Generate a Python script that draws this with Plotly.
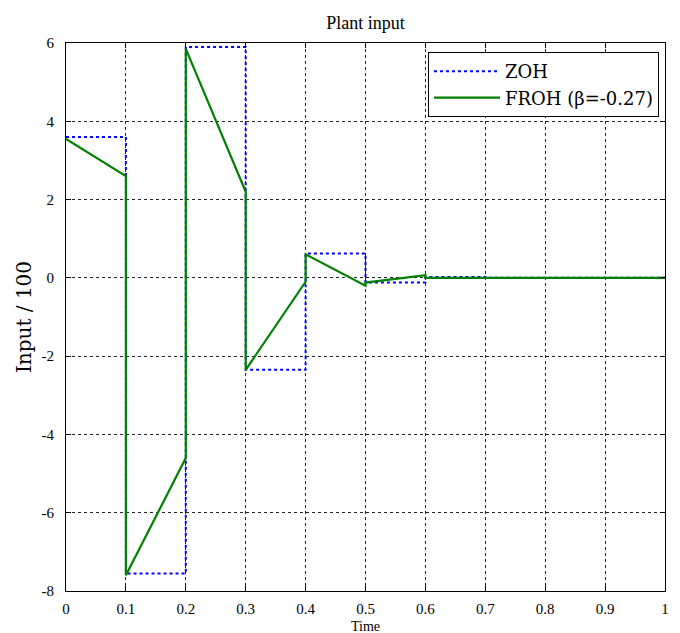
import plotly.graph_objects as go

# Sampling instants (T = 0.1)
t_samples = [0.0, 0.1, 0.2, 0.3, 0.4, 0.5, 0.6, 0.7, 0.8, 0.9, 1.0]
# ZOH held value on each interval
zoh_vals = [3.6, -7.55, 5.9, -2.35, 0.62, -0.12, 0.02, 0.0, 0.0, 0.0]
# FROH value at start and end of each interval
froh_start = [3.55, -7.6, 5.85, -2.35, 0.6, -0.12, 0.0, 0.0, 0.0, 0.0]
froh_end = [2.6, -4.6, 2.2, -0.1, -0.2, 0.07, 0.0, 0.0, 0.0, 0.0]

x_ticks = [0, 0.1, 0.2, 0.3, 0.4, 0.5, 0.6, 0.7, 0.8, 0.9, 1]
x_labels = ["0", "0.1", "0.2", "0.3", "0.4", "0.5", "0.6", "0.7", "0.8", "0.9", "1"]
y_ticks = [-8, -6, -4, -2, 0, 2, 4, 6]
y_labels = ["-8", "-6", "-4", "-2", "0", "2", "4", "6"]

zoh_x = t_samples
zoh_y = zoh_vals + [zoh_vals[-1]]

froh_x, froh_y = [], []
for i in range(len(froh_start)):
    froh_x += [t_samples[i], t_samples[i + 1]]
    froh_y += [froh_start[i], froh_end[i]]

FONT = "Liberation Serif"
WIDE = "DejaVu Serif"

fig = go.Figure()
fig.add_trace(go.Scatter(x=zoh_x, y=zoh_y, mode="lines", name="ZOH",
                         line=dict(color="#0000FF", width=2, dash="dot", shape="hv")))
fig.add_trace(go.Scatter(x=froh_x, y=froh_y, mode="lines", name="FROH (β=-0.27)",
                         line=dict(color="#008000", width=2.2)))

axis_common = dict(
    showline=True, linecolor="black", linewidth=1, mirror="ticks",
    ticks="inside", ticklen=5, tickcolor="black",
    showgrid=True, gridcolor="#222222", gridwidth=1, griddash="3px,3px",
    zeroline=False, automargin=False,
    tickfont=dict(family=FONT, size=15, color="black"),
)

fig.update_layout(
    width=680, height=633,
    margin=dict(l=66, r=15, t=43, b=42),
    paper_bgcolor="white", plot_bgcolor="white",
    font=dict(family=FONT, color="black"),
    title=dict(text="Plant input", x=0.5, xanchor="center", xref="paper",
               y=1 - 23 / 633, yref="container", yanchor="middle",
               font=dict(family=FONT, size=18, color="black")),
    xaxis=dict(range=[0, 1], tickvals=x_ticks, ticktext=x_labels,
               ticklabelstandoff=4, **axis_common),
    yaxis=dict(range=[-8, 6], tickvals=y_ticks, ticktext=y_labels,
               title=dict(text="Input / 100", font=dict(family=WIDE, size=20), standoff=4),
               ticklabelstandoff=8, **axis_common),
    legend=dict(x=0.99, xanchor="right", y=0.9836, yanchor="top",
                bgcolor="white", bordercolor="black", borderwidth=1,
                font=dict(family=WIDE, size=18, color="black"),
                tracegroupgap=0, itemwidth=66),
    showlegend=True,
    annotations=[dict(text="Time", xref="paper", yref="paper", x=0.5, y=0,
                      xanchor="center", yanchor="top", yshift=-26, showarrow=False,
                      font=dict(family=FONT, size=14, color="black"))],
)

fig.write_html("out.html")
